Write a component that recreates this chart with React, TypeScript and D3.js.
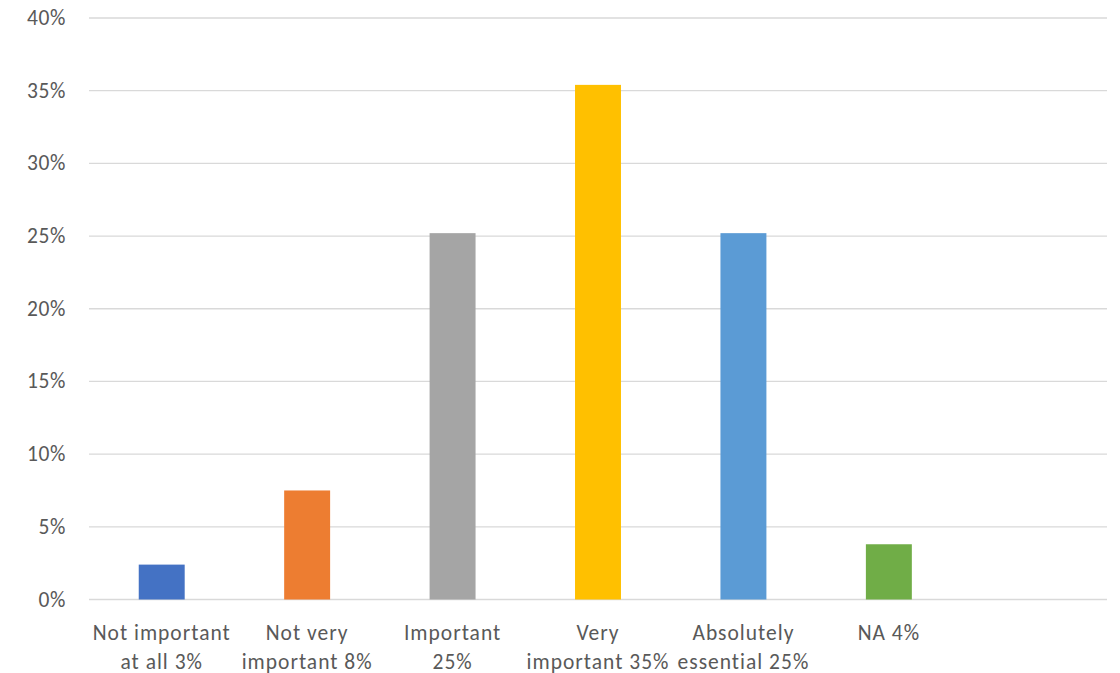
import React from "react";
import * as d3 from "d3";

const categories = [
  "Not important\nat all 3%",
  "Not very\nimportant 8%",
  "Important\n25%",
  "Very\nimportant 35%",
  "Absolutely\nessential 25%",
  "NA 4%",
  "",
];
const values = [2.4, 7.5, 25.2, 35.4, 25.2, 3.8, null];
const colors = ["#4472C4", "#ED7D31", "#A5A5A5", "#FFC000", "#5B9BD5", "#70AD47", "none"];
const yTicks = [0, 5, 10, 15, 20, 25, 30, 35, 40];

const W = 1120;
const H = 673;
const M = { left: 89, right: 13, top: 18, bottom: 73.5 };
const FONT = "Carlito, Calibri, Lato, sans-serif";

export default function App() {
  const x = d3
    .scaleBand<string>()
    .domain(categories.map((_, i) => String(i)))
    .range([M.left, W - M.right])
    .paddingInner(0.684)
    .paddingOuter(0.342);
  const y = d3.scaleLinear().domain([0, 40]).range([H - M.bottom, M.top]);

  return (
    <svg
      width={W}
      height={H}
      style={{ position: "absolute", left: 0, top: 0, background: "#fff" }}
      fontFamily={FONT}
    >
      {yTicks.map((t) => (
        <g key={t}>
          <line
            x1={M.left}
            x2={W - M.right}
            y1={y(t)}
            y2={y(t)}
            stroke="#D9D9D9"
            strokeWidth={1.3}
          />
          <text
            x={66}
            y={y(t) + 7}
            textAnchor="end"
            fontSize={21.5}
            fill="#595959"
            letterSpacing={0.6}
          >
            {t + "%"}
          </text>
        </g>
      ))}
      {values.map((v, i) =>
        v == null ? null : (
          <rect
            key={i}
            x={x(String(i))}
            width={x.bandwidth()}
            y={y(v)}
            height={y(0) - y(v)}
            fill={colors[i]}
          />
        )
      )}
      {categories.map((c, i) => {
        const cx = (x(String(i)) ?? 0) + x.bandwidth() / 2;
        return (
          <text
            key={i}
            textAnchor="middle"
            fontSize={21.5}
            fill="#595959"
            letterSpacing={1}
          >
            {c.split("\n").map((ln, j) => (
              <tspan key={j} x={cx} y={640 + j * 28.5}>
                {ln}
              </tspan>
            ))}
          </text>
        );
      })}
    </svg>
  );
}
